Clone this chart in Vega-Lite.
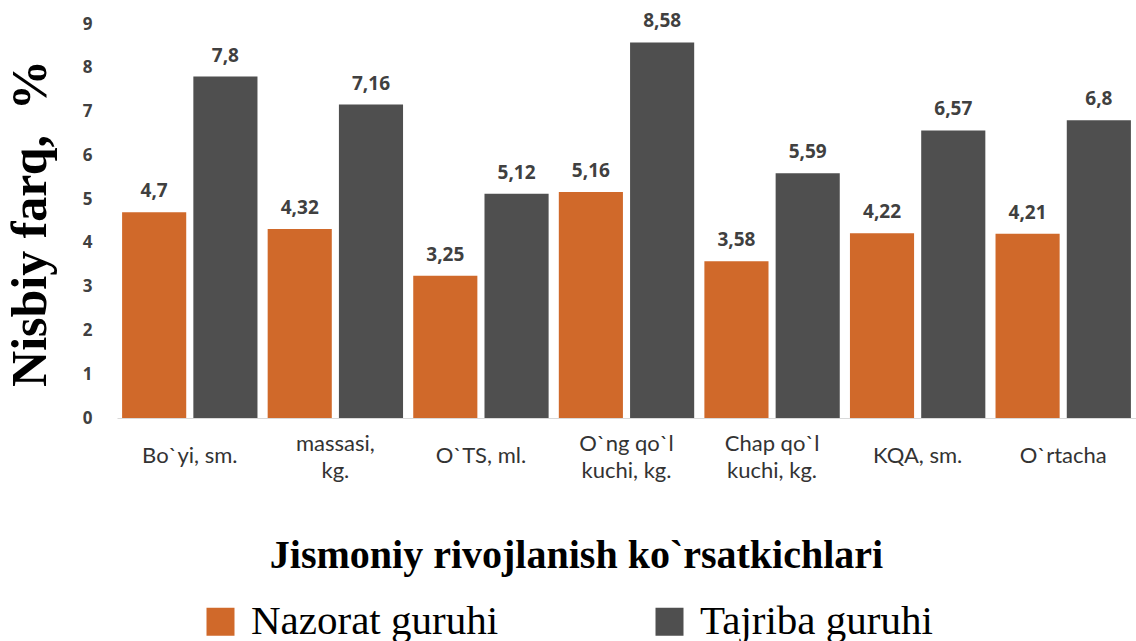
{
  "$schema": "https://vega.github.io/schema/vega-lite/v6.json",
  "width": 1019,
  "height": 394,
  "autosize": "none",
  "padding": {"left": 117, "top": 24, "right": 0, "bottom": 223},
  "background": "white",
  "config": {
    "view": {"stroke": null},
    "locale": {"number": {"decimal": ",", "thousands": " ", "grouping": [3], "currency": ["", ""]}}
  },
  "data": {
    "values": [
      {"indicator": "Bo`yi, sm.", "group": "Nazorat guruhi", "value": 4.7},
      {"indicator": "Bo`yi, sm.", "group": "Tajriba guruhi", "value": 7.8},
      {"indicator": "massasi,|kg.", "group": "Nazorat guruhi", "value": 4.32},
      {"indicator": "massasi,|kg.", "group": "Tajriba guruhi", "value": 7.16},
      {"indicator": "O`TS, ml.", "group": "Nazorat guruhi", "value": 3.25},
      {"indicator": "O`TS, ml.", "group": "Tajriba guruhi", "value": 5.12},
      {"indicator": "O`ng qo`l|kuchi, kg.", "group": "Nazorat guruhi", "value": 5.16},
      {"indicator": "O`ng qo`l|kuchi, kg.", "group": "Tajriba guruhi", "value": 8.58},
      {"indicator": "Chap qo`l|kuchi, kg.", "group": "Nazorat guruhi", "value": 3.58},
      {"indicator": "Chap qo`l|kuchi, kg.", "group": "Tajriba guruhi", "value": 5.59},
      {"indicator": "KQA, sm.", "group": "Nazorat guruhi", "value": 4.22},
      {"indicator": "KQA, sm.", "group": "Tajriba guruhi", "value": 6.57},
      {"indicator": "O`rtacha", "group": "Nazorat guruhi", "value": 4.21},
      {"indicator": "O`rtacha", "group": "Tajriba guruhi", "value": 6.8}
    ]
  },
  "encoding": {
    "x": {
      "field": "indicator",
      "type": "nominal",
      "sort": null,
      "scale": {"paddingInner": 0.07, "paddingOuter": 0.035},
      "axis": {
        "labelExpr": "split(datum.value, '|')",
        "labelAngle": 0,
        "labelFont": "Lato",
        "labelFontSize": 22,
        "labelColor": "#333333",
        "labelLineHeight": 27,
        "labelBaseline": "middle",
        "labelPadding": {"condition": {"test": "indexof(datum.value, '|') >= 0", "value": 25}, "value": 37},
        "ticks": false,
        "domain": true,
        "domainColor": "#d9d9d9",
        "domainWidth": 1,
        "title": "Jismoniy rivojlanish ko`rsatkichlari",
        "titleFont": "Liberation Serif",
        "titleFontSize": 40,
        "titleFontWeight": "bold",
        "titleColor": "#000000",
        "titleX": 459,
        "titleY": 137,
        "titleBaseline": "middle",
        "titleAlign": "center"
      }
    },
    "xOffset": {"field": "group", "type": "nominal", "sort": null, "scale": {"paddingInner": 0.1}},
    "y": {
      "field": "value",
      "type": "quantitative",
      "scale": {"domain": [0, 9]},
      "axis": {
        "values": [0, 1, 2, 3, 4, 5, 6, 7, 8, 9],
        "grid": false,
        "ticks": false,
        "domain": false,
        "labelFont": "Open Sans",
        "labelFontWeight": "bold",
        "labelFontSize": 17,
        "labelColor": "#404040",
        "labelPadding": 25,
        "title": "Nisbiy farq,\u00a0 %",
        "titleFont": "Liberation Serif",
        "titleFontSize": 50,
        "titleFontWeight": "bold",
        "titleColor": "#000000",
        "titleX": -87,
        "titleY": 199,
        "titleAngle": 270,
        "titleBaseline": "middle",
        "titleAlign": "center"
      }
    }
  },
  "layer": [
    {
      "mark": {"type": "bar"},
      "encoding": {
        "color": {
          "field": "group",
          "type": "nominal",
          "sort": null,
          "scale": {"range": ["#D0692A", "#4f4f4f"]},
          "legend": {
            "title": null,
            "orient": "none",
            "legendX": 83,
            "legendY": 577,
            "direction": "horizontal",
            "padding": 0,
            "symbolType": "square",
            "symbolSize": 784,
            "symbolStrokeWidth": 0,
            "labelFont": "Liberation Serif",
            "labelFontSize": 41,
            "labelColor": "#000000",
            "labelOffset": 10,
            "columnPadding": 150,
            "labelLimit": 400
          }
        }
      }
    },
    {
      "mark": {"type": "text", "baseline": "bottom", "dy": -11, "font": "Open Sans", "fontWeight": "bold", "fontSize": 19, "color": "#404040"},
      "encoding": {
        "text": {"field": "value", "type": "quantitative", "format": "~g"}
      }
    }
  ]
}
